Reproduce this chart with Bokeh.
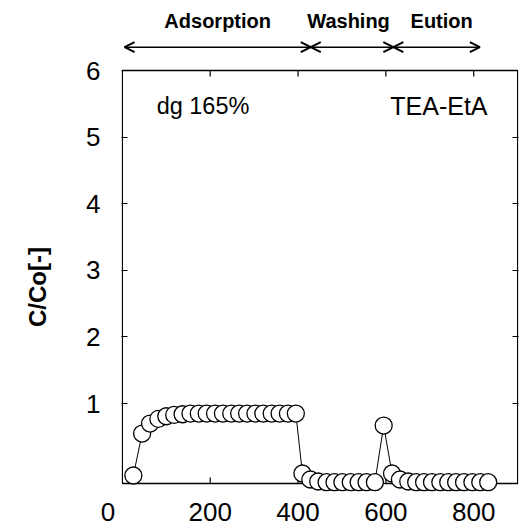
from bokeh.plotting import figure
from bokeh.models import Range1d, FixedTicker, LinearAxis, Label, Arrow, OpenHead
from bokeh.embed import file_html
from bokeh.resources import INLINE

# --- data (time [min], C/Co [-]) ---
ads_t = [25, 45, 63, 82, 100, 118, 137, 155, 174, 192, 211, 229, 248, 266, 284, 303, 321, 340, 358, 377, 395]
ads_c = [-0.08, 0.55, 0.70, 0.77, 0.81, 0.83, 0.84, 0.85, 0.85, 0.85, 0.85, 0.85, 0.85, 0.85, 0.85, 0.85, 0.85, 0.85, 0.85, 0.85, 0.85]
wash_t = [410, 428, 446, 465, 483, 501, 520, 538, 556, 575]
wash_c = [-0.05, -0.14, -0.17, -0.18, -0.18, -0.18, -0.18, -0.18, -0.18, -0.18]
spike_t = [595]
spike_c = [0.67]
elu_t = [614, 632, 651, 669, 687, 705, 724, 742, 760, 778, 797, 815, 833]
elu_c = [-0.05, -0.14, -0.17, -0.18, -0.18, -0.18, -0.18, -0.18, -0.18, -0.18, -0.18, -0.18, -0.18]

x_ticks = [0, 200, 400, 600, 800]
y_ticks = [1, 2, 3, 4, 5, 6]
x_min, x_max = 0, 900
y_min, y_max = -0.2, 6

phases = ["Adsorption", "Washing", "Eution"]
phase_bounds = [5, 429, 617, 814]
phase_label_x = [217, 515, 727]

t_all = ads_t + wash_t + spike_t + elu_t
c_all = ads_c + wash_c + spike_c + elu_c

FONT = "Liberation Sans"
FIG_SPACE = "\u2007"

# the drawing area extends above and below the plotting box so that the phase
# arrows, their titles and the circles that sit on the bottom edge are not clipped
p = figure(width=531, height=531, output_backend="svg", toolbar_location=None,
           x_range=Range1d(-2, 902), y_range=Range1d(-0.35, 7.051),
           min_border_left=121, min_border_right=13, min_border_top=0, min_border_bottom=38,
           x_axis_type=None, y_axis_type=None)
p.grid.visible = False
p.outline_line_color = None
p.background_fill_color = "white"
p.border_fill_color = "white"


def style_axis(ax, show_labels):
    ax.major_tick_in = 6
    ax.major_tick_out = 0
    ax.minor_tick_line_color = None
    ax.axis_line_color = None
    ax.major_tick_line_color = "black"
    ax.major_tick_line_width = 1.2
    ax.major_label_text_font = FONT
    ax.major_label_text_font_size = "26px"
    ax.major_label_text_color = "black"
    if not show_labels:
        ax.major_label_text_font_size = "0px"
        ax.major_label_text_color = None


xb = LinearAxis(ticker=FixedTicker(ticks=x_ticks),
                major_label_overrides={0: "0" + FIG_SPACE * 2})
style_axis(xb, True)
xb.major_tick_line_color = None
xb.major_label_standoff = 3
p.add_layout(xb, "below")

# trailing figure spaces keep the title centred on the box rather than on the drawing area
yl = LinearAxis(ticker=FixedTicker(ticks=y_ticks), axis_label="C/Co[-]" + FIG_SPACE * 6)
style_axis(yl, True)
yl.major_label_standoff = 21
yl.axis_label_text_font = FONT
yl.axis_label_text_font_style = "bold"
yl.axis_label_text_font_size = "24px"
yl.axis_label_text_color = "black"
yl.axis_label_standoff = 32
p.add_layout(yl, "left")

yr = LinearAxis(ticker=FixedTicker(ticks=y_ticks[:-1]))
style_axis(yr, False)
p.add_layout(yr, "right")

# plotting box and the inward x ticks on its top and bottom edges
p.quad(left=[x_min], right=[x_max], bottom=[y_min], top=[y_max],
       fill_color=None, line_color="black", line_width=1.3)
tick_len = 0.09
p.segment(x0=x_ticks[1:], y0=[y_max] * 4, x1=x_ticks[1:], y1=[y_max - tick_len] * 4,
          line_color="black", line_width=1.2)
p.segment(x0=x_ticks[1:], y0=[y_min] * 4, x1=x_ticks[1:], y1=[y_min + tick_len] * 4,
          line_color="black", line_width=1.2)

p.line(t_all, c_all, line_color="black", line_width=1)
p.scatter(t_all, c_all, marker="circle", size=17, fill_color="white",
          line_color="black", line_width=1.3)

# phase arrows and labels above the box
for i, name in enumerate(phases):
    p.add_layout(Arrow(x_start=phase_bounds[i], y_start=6.35,
                       x_end=phase_bounds[i + 1], y_end=6.35,
                       start=OpenHead(size=10, line_width=2, line_color="black"),
                       end=OpenHead(size=10, line_width=2, line_color="black"),
                       line_color="black", line_width=1.5))
    p.add_layout(Label(x=phase_label_x[i], y=6.75, text=name, text_font=FONT,
                       text_font_style="bold", text_font_size="20px",
                       text_align="center", text_baseline="middle", text_color="black"))

p.add_layout(Label(x=78, y=5.47, text="dg 165%", text_font=FONT, text_font_size="23.5px",
                   text_align="left", text_baseline="middle", text_color="black"))
p.add_layout(Label(x=610, y=5.47, text="TEA-EtA", text_font=FONT, text_font_size="25px",
                   text_align="left", text_baseline="middle", text_color="black"))

open("out.html", "w").write(file_html(p, INLINE))
